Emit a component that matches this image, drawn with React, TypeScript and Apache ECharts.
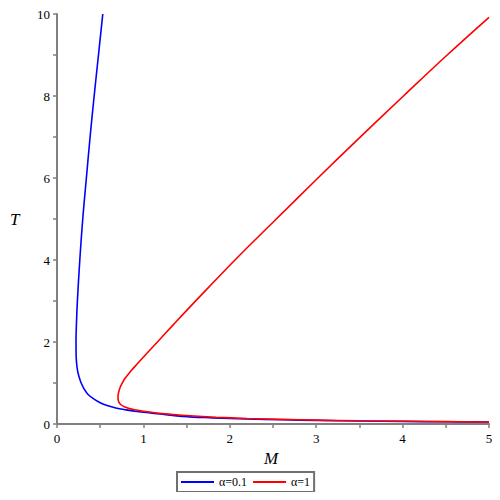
import React, { useEffect, useRef } from "react";
import * as echarts from "echarts";

const blueM = [0.53, 0.48, 0.43, 0.383, 0.34, 0.298, 0.264, 0.236, 0.226, 0.22, 0.221, 0.226, 0.238, 0.255, 0.28, 0.315, 0.36, 0.42, 0.5, 0.58, 0.68, 0.8, 0.95, 1.1, 1.22, 1.45, 1.8, 2.2, 2.6, 3.0, 3.5, 4.0, 4.5, 5.0];
const blueT = [10, 9, 8, 7, 6, 5, 4, 3, 2.5, 2.0, 1.7, 1.5, 1.3, 1.15, 1.0, 0.85, 0.72, 0.62, 0.52, 0.45, 0.39, 0.345, 0.3, 0.265, 0.24, 0.185, 0.15, 0.123, 0.104, 0.088, 0.074, 0.063, 0.054, 0.047];

const redM = [5.0, 4.5, 4.01, 3.5, 3.02, 2.5, 2.06, 1.6, 1.35, 1.17, 1.03, 0.93, 0.85, 0.79, 0.75, 0.725, 0.71, 0.706, 0.715, 0.74, 0.78, 0.84, 0.92, 1.0, 1.15, 1.3, 1.54, 1.84, 2.2, 2.6, 3.0, 3.5, 4.0, 4.5, 5.0];
const redT = [9.92, 8.97, 8.0, 6.98, 6.0, 4.92, 4.0, 2.99, 2.43, 2.02, 1.7, 1.47, 1.28, 1.12, 0.98, 0.86, 0.74, 0.62, 0.54, 0.47, 0.42, 0.375, 0.34, 0.31, 0.27, 0.24, 0.2, 0.165, 0.135, 0.112, 0.095, 0.08, 0.068, 0.058, 0.05];

const xTicks = [0, 1, 2, 3, 4, 5];
const yTicks = [0, 2, 4, 6, 8, 10];
const seriesNames = ["α=0.1", "α=1"];

const FONT = "'Liberation Serif', 'DejaVu Serif', serif";
const AXIS = "#808080";

export default function App() {
  const ref = useRef<HTMLDivElement>(null);
  useEffect(() => {
    if (!ref.current) return;
    const chart = echarts.init(ref.current, undefined, { renderer: "svg" });
    const blue = blueM.map((m, i) => [m, blueT[i]]);
    const red = redM.map((m, i) => [m, redT[i]]);
    chart.setOption({
      animation: false,
      backgroundColor: "#ffffff",
      grid: { left: 57, right: 11, top: 14, bottom: 76 },
      xAxis: {
        type: "value",
        min: xTicks[0],
        max: xTicks[xTicks.length - 1],
        interval: 1,
        axisLine: { show: true, onZero: false, lineStyle: { color: AXIS, width: 2 } },
        axisTick: { show: true, length: 4, lineStyle: { color: AXIS, width: 1.5 } },
        minorTick: { show: true, splitNumber: 2, length: 4, lineStyle: { color: AXIS, width: 1.5 } },
        splitLine: { show: false },
        axisLabel: { color: "#000", fontFamily: FONT, fontSize: 13, margin: 8 },
      },
      yAxis: {
        type: "value",
        min: yTicks[0],
        max: yTicks[yTicks.length - 1],
        interval: 2,
        axisLine: { show: true, onZero: false, lineStyle: { color: AXIS, width: 2 } },
        axisTick: { show: true, length: 4, lineStyle: { color: AXIS, width: 1.5 } },
        minorTick: { show: true, splitNumber: 2, length: 4, lineStyle: { color: AXIS, width: 1.5 } },
        splitLine: { show: false },
        axisLabel: { color: "#000", fontFamily: FONT, fontSize: 13, margin: 7 },
      },
      legend: {
        data: seriesNames,
        left: 177,
        top: 472,
        padding: [4, 4, 4, 4],
        itemGap: 6,
        itemWidth: 33,
        itemHeight: 2,
        icon: "rect",
        borderColor: "#707070",
        borderWidth: 2,
        borderRadius: 0,
        textStyle: { color: "#000", fontFamily: FONT, fontSize: 12 },
      },
      graphic: [
        {
          type: "text",
          left: 264,
          top: 450,
          style: { text: "M", fontFamily: FONT, fontStyle: "italic", fontSize: 17, fill: "#000" },
        },
        {
          type: "text",
          left: 10,
          top: 211,
          style: { text: "T", fontFamily: FONT, fontStyle: "italic", fontSize: 17, fill: "#000" },
        },
      ],
      series: [
        {
          name: seriesNames[0],
          type: "line",
          data: blue,
          showSymbol: false,
          smooth: 0.4,
          clip: true,
          lineStyle: { color: "#0000ff", width: 1.6 },
          itemStyle: { color: "#0000ff" },
        },
        {
          name: seriesNames[1],
          type: "line",
          data: red,
          showSymbol: false,
          smooth: 0.4,
          clip: true,
          lineStyle: { color: "#ff0000", width: 1.6 },
          itemStyle: { color: "#ff0000" },
        },
      ],
    });
    return () => chart.dispose();
  }, []);
  return <div ref={ref} style={{ width: 500, height: 500, margin: -8 }} />;
}
